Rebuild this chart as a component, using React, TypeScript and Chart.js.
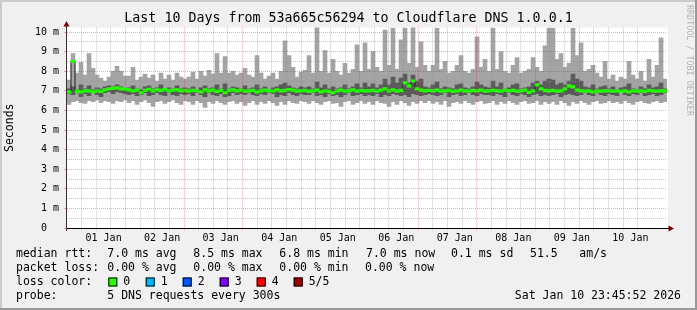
import React, { useEffect, useRef } from "react";
import { Chart, registerables } from "chart.js";

Chart.register(...registerables);

const TITLE = "Last 10 Days from 53a665c56294 to Cloudflare DNS 1.0.0.1";
const Y_TITLE = "Seconds";
const DAY_LABELS = ["01 Jan", "02 Jan", "03 Jan", "04 Jan", "05 Jan", "06 Jan", "07 Jan", "08 Jan", "09 Jan", "10 Jan"];
const Y_TICKS = [0, 0.5, 1, 1.5, 2, 2.5, 3, 3.5, 4, 4.5, 5, 5.5, 6, 6.5, 7, 7.5, 8, 8.5, 9, 9.5, 10];
const HOUR_TICKS = [0, 6, 12, 18, 24, 30, 36, 42, 48, 54, 60, 66, 72, 78, 84, 90, 96, 102, 108, 114, 120, 126, 132, 138, 144, 150, 156, 162, 168, 174, 180, 186, 192, 198, 204, 210, 216, 222, 228, 234, 240];

// smoke: full range (light grey) per 96-minute step, ms
const SMOKE_TOP = [
  7.55, 8.9, 7.9, 8.45, 7.8, 8.9, 8.15, 7.8, 7.65, 7.5, 7.7, 8.0, 8.25, 8.0, 7.75,
  7.75, 8.2, 7.55, 7.7, 7.85, 7.65, 7.8, 7.5, 7.9, 7.6, 7.8, 7.55, 7.9, 7.7, 7.6,
  7.7, 7.95, 7.6, 8.0, 7.75, 8.05, 7.85, 8.9, 7.9, 8.75, 7.9, 8.0, 7.8, 7.9, 8.15,
  7.8, 7.7, 8.8, 7.9, 7.6, 7.75, 7.9, 7.6, 8.0, 9.55, 8.8, 8.2, 7.7, 7.95, 8.05,
  8.8, 7.9, 10.3, 8.0, 9.05, 7.9, 8.6, 8.0, 7.8, 8.4, 7.9, 8.1, 9.35, 8.0, 9.45,
  8.1, 9.0, 8.2, 8.0, 10.1, 8.3, 10.2, 8.1, 9.6, 10.2, 8.4, 10.3, 8.2, 9.5, 8.3,
  8.0, 8.3, 10.2, 8.1, 8.5, 7.9, 8.0, 8.3, 8.8, 8.0, 7.9, 8.1, 9.75, 8.2, 8.6,
  8.0, 10.2, 8.1, 9.0, 8.0, 7.9, 8.3, 8.7, 7.9, 8.0, 8.1, 8.7, 8.2, 8.0, 9.3,
  10.2, 10.2, 8.6, 8.9, 8.2, 8.4, 10.2, 8.8, 9.45, 8.0, 8.1, 8.3, 7.9, 7.7, 8.5,
  7.6, 7.8, 7.5, 7.7, 7.6, 8.5, 7.8, 7.6, 8.0, 7.5, 8.6, 7.7, 8.3, 9.7, 7.6,
];
const SMOKE_BOTTOM = [
  6.3, 6.45, 6.5, 6.4, 6.35, 6.5, 6.45, 6.55, 6.4, 6.5, 6.45, 6.35, 6.5, 6.45, 6.55,
  6.4, 6.5, 6.3, 6.45, 6.55, 6.4, 6.2, 6.45, 6.5, 6.35, 6.45, 6.55, 6.4, 6.3, 6.5,
  6.45, 6.3, 6.5, 6.4, 6.15, 6.45, 6.35, 6.5, 6.4, 6.3, 6.45, 6.5, 6.35, 6.45, 6.25,
  6.4, 6.5, 6.3, 6.45, 6.35, 6.5, 6.4, 6.25, 6.45, 6.3, 6.5, 6.4, 6.35, 6.5, 6.45,
  6.35, 6.5, 6.4, 6.3, 6.45, 6.5, 6.35, 6.4, 6.2, 6.45, 6.5, 6.3, 6.4, 6.5, 6.35,
  6.45, 6.3, 6.5, 6.4, 6.35, 6.2, 6.45, 6.3, 6.5, 6.4, 6.25, 6.45, 6.35, 6.5, 6.4,
  6.5, 6.35, 6.45, 6.3, 6.5, 6.2, 6.4, 6.45, 6.35, 6.5, 6.4, 6.3, 6.45, 6.5, 6.35,
  6.4, 6.5, 6.3, 6.45, 6.35, 6.5, 6.4, 6.3, 6.45, 6.5, 6.35, 6.4, 6.5, 6.3, 6.45,
  6.35, 6.45, 6.3, 6.5, 6.4, 6.25, 6.45, 6.35, 6.5, 6.4, 6.3, 6.45, 6.5, 6.35, 6.4,
  6.5, 6.4, 6.45, 6.35, 6.5, 6.4, 6.3, 6.45, 6.5, 6.4, 6.35, 6.45, 6.5, 6.4, 6.45,
];
// inner smoke (darker grey)
const INNER_HIGH = [
  7.1, 7.2, 7.05, 7.3, 7.1, 7.25, 7.05, 7.15, 7.1, 7.2, 7.25, 7.2, 7.3, 7.2, 7.1,
  7.15, 7.25, 7.1, 7.05, 7.2, 7.25, 7.1, 7.15, 7.3, 7.1, 7.15, 7.1, 7.25, 7.1, 7.15,
  7.1, 7.2, 7.05, 7.15, 7.25, 7.1, 7.15, 7.3, 7.1, 7.35, 7.1, 7.2, 7.15, 7.1, 7.25,
  7.1, 7.15, 7.3, 7.1, 7.2, 7.05, 7.15, 7.2, 7.3, 7.4, 7.25, 7.15, 7.1, 7.2, 7.15,
  7.2, 7.1, 7.45, 7.15, 7.3, 7.1, 7.2, 7.1, 7.15, 7.3, 7.1, 7.2, 7.35, 7.15, 7.4,
  7.2, 7.35, 7.15, 7.3, 7.6, 7.3, 7.7, 7.4, 7.65, 7.85, 7.4, 7.8, 7.5, 7.6, 7.2,
  7.15, 7.3, 7.45, 7.1, 7.2, 7.15, 7.1, 7.3, 7.35, 7.15, 7.1, 7.2, 7.45, 7.3, 7.2,
  7.15, 7.5, 7.2, 7.4, 7.1, 7.15, 7.3, 7.35, 7.1, 7.15, 7.2, 7.4, 7.5, 7.3, 7.5,
  7.6, 7.55, 7.3, 7.4, 7.3, 7.5, 7.85, 7.6, 7.5, 7.2, 7.15, 7.3, 7.1, 7.2, 7.25,
  7.1, 7.2, 7.05, 7.15, 7.2, 7.35, 7.1, 7.05, 7.2, 7.1, 7.3, 7.15, 7.2, 7.4, 7.1,
];
const INNER_LOW = [
  6.85, 6.8, 6.9, 6.7, 6.85, 6.75, 6.9, 6.8, 6.7, 6.9, 6.95, 6.85, 6.95, 6.9, 6.85,
  6.8, 6.85, 6.75, 6.8, 6.9, 6.75, 6.8, 6.9, 6.8, 6.75, 6.9, 6.8, 6.75, 6.85, 6.8,
  6.85, 6.75, 6.9, 6.8, 6.7, 6.9, 6.8, 6.75, 6.85, 6.7, 6.75, 6.9, 6.8, 6.85, 6.8,
  6.9, 6.8, 6.75, 6.85, 6.8, 6.9, 6.85, 6.7, 6.8, 6.75, 6.9, 6.8, 6.75, 6.85, 6.8,
  6.8, 6.9, 6.75, 6.8, 6.7, 6.85, 6.75, 6.8, 6.7, 6.8, 6.9, 6.75, 6.8, 6.85, 6.75,
  6.8, 6.75, 6.85, 6.7, 6.8, 6.75, 6.85, 6.8, 6.75, 6.8, 6.7, 6.85, 6.8, 6.75, 6.8,
  6.85, 6.8, 6.75, 6.8, 6.9, 6.7, 6.8, 6.85, 6.75, 6.8, 6.9, 6.8, 6.75, 6.85, 6.8,
  6.8, 6.75, 6.85, 6.8, 6.7, 6.9, 6.8, 6.75, 6.85, 6.8, 6.7, 6.8, 6.85, 6.75, 6.8,
  6.75, 6.8, 6.85, 6.7, 6.8, 6.85, 6.8, 6.75, 6.8, 6.9, 6.8, 6.75, 6.9, 6.8, 6.75,
  6.85, 6.8, 6.75, 6.9, 6.8, 6.75, 6.85, 6.8, 6.9, 6.75, 6.8, 6.85, 6.75, 6.8, 6.9,
];
const MEDIAN = [
  6.95, 8.5, 6.98, 6.95, 7.0, 7.0, 6.95, 7.0, 6.97, 7.05, 7.1, 7.12, 7.15, 7.1, 7.08,
  7.05, 7.0, 7.03, 6.9, 7.02, 7.08, 7.0, 7.05, 7.02, 7.06, 7.0, 7.03, 7.05, 7.0, 7.02,
  6.98, 7.02, 7.0, 6.95, 7.05, 7.0, 7.03, 6.97, 7.02, 6.9, 7.02, 7.05, 7.0, 7.03, 6.98,
  7.0, 7.02, 6.95, 7.0, 7.03, 7.0, 6.98, 7.05, 7.0, 7.02, 7.06, 7.03, 6.98, 7.0, 7.02,
  6.97, 7.0, 7.03, 6.95, 7.0, 6.97, 6.9, 7.0, 7.03, 6.98, 7.0, 7.05, 6.98, 7.02, 7.0,
  7.0, 7.02, 6.98, 7.03, 7.1, 7.0, 7.05, 6.98, 7.02, 7.4, 7.25, 7.5, 7.1, 7.03, 7.0,
  7.02, 7.0, 7.03, 6.98, 7.0, 7.02, 6.97, 7.0, 7.03, 7.0, 6.98, 7.02, 7.0, 7.03, 6.98,
  7.0, 7.02, 7.0, 6.98, 7.03, 7.0, 7.02, 6.98, 7.0, 7.03, 6.92, 7.0, 7.3, 7.1, 7.02,
  7.0, 7.02, 6.98, 7.0, 7.1, 7.25, 7.2, 7.03, 7.0, 6.98, 7.0, 6.95, 7.0, 6.98, 7.0,
  7.0, 6.98, 7.0, 6.97, 7.0, 6.95, 7.0, 6.98, 7.0, 6.97, 7.02, 7.0, 6.98, 7.0, 7.0,
];

const RTT_STATS = ["median rtt:", "7.0 ms avg", "8.5 ms max", "6.8 ms min", "7.0 ms now", "0.1 ms sd", "51.5", "am/s"];
const LOSS_STATS = ["packet loss:", "0.00 % avg", "0.00 % max", "0.00 % min", "0.00 % now"];
const LOSS_TITLE = "loss color:";
const LOSS_LABELS = ["0", "1", "2", "3", "4", "5/5"];
const LOSS_COLORS = ["#26ff00", "#00b8ff", "#0059ff", "#7e00ff", "#ff0000", "#a10000"];
const PROBE = ["probe:", "5 DNS requests every 300s"];
const STAMP = "Sat Jan 10 23:45:52 2026";
const WATERMARK = "RRDTOOL / TOBI OETIKER";

const MONO = "'DejaVu Sans Mono', monospace";
const W = 697;
const H = 310;

const decoPlugin = {
  id: "rrdDeco",
  beforeDraw(chart: any) {
    const { ctx, chartArea: a } = chart;
    ctx.save();
    ctx.fillStyle = "#f0f0f0";
    ctx.fillRect(0, 0, W, H);
    ctx.fillStyle = "#cbcbcb";
    ctx.fillRect(0, 0, W, 2);
    ctx.fillRect(0, 0, 2, H);
    ctx.fillStyle = "#999999";
    ctx.fillRect(0, H - 2, W, 2);
    ctx.fillRect(W - 2, 0, 2, H);
    ctx.fillStyle = "#ffffff";
    ctx.fillRect(a.left, a.top, a.right - a.left + 1, a.bottom - a.top);
    ctx.restore();
  },
  afterDraw(chart: any) {
    const { ctx, chartArea: a } = chart;
    ctx.save();
    // axes
    ctx.fillStyle = "#000000";
    ctx.fillRect(a.left - 1, a.bottom, a.right - a.left + 3, 1);
    ctx.fillStyle = "#3a3030";
    ctx.fillRect(a.left - 1, a.top - 3, 1, a.bottom - a.top + 6);
    // arrows
    ctx.fillStyle = "#7f0000";
    ctx.beginPath();
    ctx.moveTo(a.left - 0.5, a.top - 6.5);
    ctx.lineTo(a.left - 3.5, a.top - 1);
    ctx.lineTo(a.left + 2.5, a.top - 1);
    ctx.closePath();
    ctx.fill();
    ctx.beginPath();
    ctx.moveTo(a.right + 7, a.bottom + 0.5);
    ctx.lineTo(a.right + 1.5, a.bottom - 2.5);
    ctx.lineTo(a.right + 1.5, a.bottom + 3.5);
    ctx.closePath();
    ctx.fill();

    // title
    ctx.fillStyle = "#000000";
    ctx.textBaseline = "middle";
    ctx.textAlign = "center";
    ctx.font = `13.3px ${MONO}`;
    ctx.fillText(TITLE, W / 2, 19);

    // legend
    ctx.textAlign = "left";
    ctx.font = `11.5px ${MONO}`;
    const cols = [16, 107.3, 193.3, 279.3, 366, 451, 530, 579.3];
    RTT_STATS.forEach((t, i) => ctx.fillText(t, cols[i], 254.5));
    const lcols = [16, 107.3, 193.3, 279.3, 365];
    LOSS_STATS.forEach((t, i) => ctx.fillText(t, lcols[i], 268));
    ctx.fillText(LOSS_TITLE, 16, 282);
    const boxX = [108.3, 145.7, 182.7, 219.7, 256.7, 293.7];
    LOSS_LABELS.forEach((t, i) => {
      ctx.fillStyle = LOSS_COLORS[i];
      ctx.fillRect(boxX[i], 277.5, 9, 9);
      ctx.strokeStyle = "#000000";
      ctx.lineWidth = 1;
      ctx.strokeRect(boxX[i] + 0.5, 278, 8, 8);
      ctx.fillStyle = "#000000";
      ctx.fillText(t, boxX[i] + 15, 282);
    });
    ctx.fillText(PROBE[0], 16, 296);
    ctx.fillText(PROBE[1], 107.3, 296);
    ctx.textAlign = "right";
    ctx.fillText(STAMP, 681, 296);

    // watermark
    ctx.translate(689, 5);
    ctx.rotate(Math.PI / 2);
    ctx.textAlign = "left";
    ctx.fillStyle = "#b4b4b4";
    ctx.font = `8.4px ${MONO}`;
    ctx.fillText(WATERMARK, 0, 0);
    ctx.restore();
  },
};

const MAJOR = "rgba(255,0,0,0.35)";
const MINOR = "rgba(140,140,140,0.5)";

export default function App() {
  const ref = useRef<HTMLCanvasElement | null>(null);
  useEffect(() => {
    if (!ref.current) return;
    const labels = MEDIAN.map((_, i) => String(i));
    const barCommon = {
      type: "bar" as const,
      grouped: false,
      barPercentage: 1,
      categoryPercentage: 1,
      borderWidth: 0,
      borderSkipped: false,
      xAxisID: "x",
      yAxisID: "y",
    };
    const chart = new Chart(ref.current, {
      type: "bar",
      data: {
        labels,
        datasets: [
          {
            ...barCommon,
            label: "smoke",
            data: SMOKE_BOTTOM.map((b, i) => [b, SMOKE_TOP[i]]),
            backgroundColor: "#a4a4a4",
            order: 4,
          } as any,
          {
            ...barCommon,
            label: "inner smoke",
            data: INNER_LOW.map((b, i) => [b, INNER_HIGH[i]]),
            backgroundColor: "#5a5a5a",
            order: 3,
          } as any,
          {
            type: "line",
            label: "median",
            data: MEDIAN,
            borderColor: "#1a1a1a",
            borderWidth: 1,
            pointRadius: 0,
            stepped: "middle",
            xAxisID: "x",
            yAxisID: "y",
            order: 2,
          } as any,
          {
            ...barCommon,
            label: "median loss 0",
            data: MEDIAN.map((m) => [m - 0.065, m + 0.065]),
            backgroundColor: LOSS_COLORS[0],
            order: 1,
          } as any,
        ],
      },
      options: {
        responsive: false,
        animation: false,
        events: [],
        layout: { padding: { left: 0, right: 30, top: 27.5, bottom: 0 } },
        plugins: { legend: { display: false }, tooltip: { enabled: false }, title: { display: false } },
        scales: {
          x: { type: "category", display: false, offset: true },
          xg: {
            type: "linear",
            position: "bottom",
            min: 0,
            max: 240,
            afterBuildTicks: (s: any) => {
              s.ticks = HOUR_TICKS.map((v) => ({ value: v }));
            },
            afterFit: (s: any) => {
              s.height = 82;
            },
            ticks: {
              autoSkip: false,
              maxRotation: 0,
              minRotation: 0,
              padding: 2,
              color: "#000000",
              font: { family: MONO, size: 10 },
              callback: (v: any) => {
                const h = Number(v);
                return h % 24 === 12 ? DAY_LABELS[(h - 12) / 24] : "";
              },
            },
            grid: {
              z: 1,
              lineWidth: 1,
              tickLength: 2,
              color: (c: any) => {
                const h = c.tick ? c.tick.value : 0;
                if (h === 0 || h === 240) return "rgba(0,0,0,0)";
                return h % 24 === 0 ? MAJOR : MINOR;
              },
            },
            border: { display: false, dash: [1, 1] },
          },
          y: {
            type: "linear",
            min: 0,
            max: 10.23,
            afterBuildTicks: (s: any) => {
              s.ticks = Y_TICKS.map((v) => ({ value: v }));
            },
            afterFit: (s: any) => {
              s.width = 67;
            },
            ticks: {
              autoSkip: false,
              padding: 5,
              color: "#000000",
              font: { family: MONO, size: 10 },
              callback: (v: any) => {
                const n = Number(v);
                if (n % 1 !== 0) return "";
                return n === 0 ? "0  " : `${n} m`;
              },
            },
            grid: {
              z: 1,
              lineWidth: 1,
              tickLength: 3,
              color: (c: any) => {
                const v = c.tick ? c.tick.value : 0;
                if (v === 0) return "rgba(0,0,0,0)";
                return v % 1 === 0 ? MAJOR : MINOR;
              },
              tickColor: (c: any) => {
                const v = c.tick ? c.tick.value : 0;
                return v % 1 === 0 ? MAJOR : "rgba(0,0,0,0)";
              },
            },
            border: { display: false, dash: [1, 1] },
            title: {
              display: true,
              text: Y_TITLE,
              color: "#000000",
              font: { family: MONO, size: 11.5 },
              padding: { top: 3.6, bottom: 0 },
            },
          },
        },
      },
      plugins: [decoPlugin],
    });
    return () => chart.destroy();
  }, []);

  return (
    <div style={{ position: "fixed", left: 0, top: 0, width: W, height: H }}>
      <canvas ref={ref} width={W} height={H} style={{ display: "block", width: W, height: H }} />
    </div>
  );
}
